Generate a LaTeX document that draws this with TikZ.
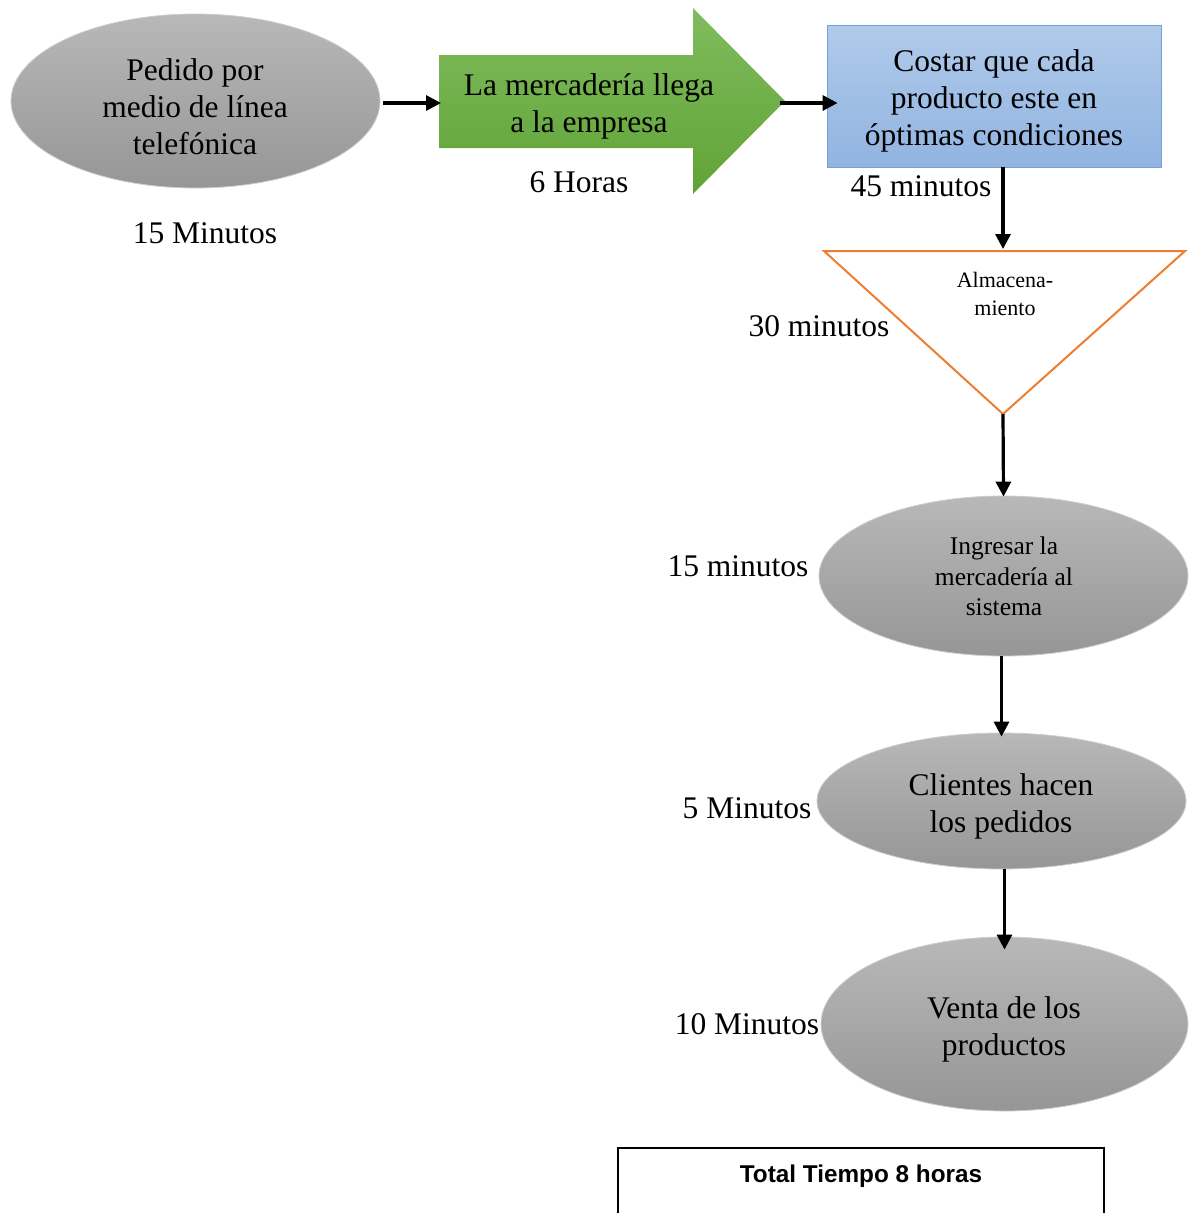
\documentclass[tikz,border=0pt]{standalone}
\usepackage{fontspec}
\setmainfont{Liberation Serif}
\newfontfamily\arialfont{Liberation Sans}
\usetikzlibrary{shapes.geometric,arrows.meta}

\definecolor{ellTop}{RGB}{184,184,184}
\definecolor{ellBot}{RGB}{150,150,150}
\definecolor{ellEdge}{RGB}{205,205,205}
\definecolor{grnTop}{RGB}{128,188,94}
\definecolor{grnBot}{RGB}{96,163,54}
\definecolor{bluTop}{RGB}{176,202,234}
\definecolor{bluBot}{RGB}{145,180,225}
\definecolor{bluEdge}{RGB}{120,160,212}
\definecolor{triOrange}{RGB}{237,125,49}

\tikzset{
  procell/.style={ellipse, draw=ellEdge, line width=0.8pt, top color=ellTop, bottom color=ellBot, inner sep=0pt},
  bigtxt/.style={font=\fontsize{31.5}{37}\selectfont, align=center, inner sep=0pt},
  midtxt/.style={font=\fontsize{25.5}{30.5}\selectfont, align=center, inner sep=0pt},
  smalltxt/.style={font=\fontsize{22}{28}\selectfont, align=center, inner sep=0pt},
  timelbl/.style={font=\fontsize{31.5}{36}\selectfont, inner sep=0pt},
  flow/.style={line width=3.2pt, -{Triangle[length=15pt,width=15pt]}},
}

\begin{document}
\begin{tikzpicture}[x=1pt,y=-1pt]
\useasboundingbox (0,0) rectangle (1195,1213);

% first step: order by phone
\node[procell, minimum width=369pt, minimum height=174pt] (pedido) at (195.5,101) {};
\node[bigtxt] (pedidoT) at (195,107) {Pedido por\\medio de línea\\telefónica};
\node[timelbl] (tPedido) at (205,233) {15 Minutos};

% transport arrow (green block arrow)
\shade[top color=grnTop, bottom color=grnBot]
  (439,55) -- (693,55) -- (693,8) -- (785,101) -- (693,194) -- (693,148) -- (439,148) -- cycle;
\coordinate (arrTail) at (441,103);
\coordinate (arrTip) at (780,103);
\node[bigtxt] (llegaT) at (589,106.5) {La mercadería llega\\a la empresa};
\node[timelbl] (tLlega) at (579,182) {6 Horas};

% inspection box
\node[rectangle, draw=bluEdge, line width=0.8pt, top color=bluTop, bottom color=bluBot,
      minimum width=334pt, minimum height=142pt, inner sep=0pt] (costar) at (994,96) {};
\node[bigtxt] (costarT) at (994,100.5) {Costar que cada\\producto este en\\óptimas condiciones};
\node[timelbl] (tCostar) at (921,186) {45 minutos};

% storage triangle
\coordinate (triL) at (824,251);
\coordinate (triR) at (1185,251);
\coordinate (triTop) at (1003,249);
\coordinate (triBot) at (1003,414);
\draw[triOrange, line width=2pt, line join=miter] (triL) -- (triR) -- (triBot) -- cycle;
\node[smalltxt] (almT) at (1005,294) {Almacena-\\miento};
\node[timelbl] (tAlm) at (819,326) {30 minutos};

% system entry
\node[procell, minimum width=369pt, minimum height=160pt] (ingresar) at (1003.5,576) {};
\node[midtxt] (ingresarT) at (1004,576.5) {Ingresar la\\mercadería al\\sistema};
\node[timelbl] (tIngresar) at (738,566) {15 minutos};

% customer orders
\node[procell, minimum width=369pt, minimum height=136pt] (clientes) at (1001.5,801) {};
\node[bigtxt] (clientesT) at (1001,806) {Clientes hacen\\los pedidos};
\node[timelbl] (tClientes) at (747,808) {5 Minutos};

% sale
\node[procell, minimum width=367pt, minimum height=174pt] (venta) at (1004.5,1024) {};
\node[bigtxt] (ventaT) at (1004,1029) {Venta de los\\productos};
\node[timelbl] (tVenta) at (747,1024) {10 Minutos};

% connectors
\draw[flow] (pedido.east) ++(3,2) coordinate (p1) -- (arrTail);
\draw[flow] (arrTip) -- ([xshift=11pt]costar.west |- arrTip);
\draw[flow] (costar.south -| triTop) -- (triTop);
\draw[flow] (triBot) -- ([yshift=-1pt]ingresar.north);
\draw[flow] (ingresar.south -| clientes.north) -- ([yshift=-4pt]clientes.north);
\draw[flow] (clientes.south -| venta.north) -- ([yshift=-13pt]venta.north);

% total time box
\begin{scope}
\clip (0,0) rectangle (1195,1213);
\node[draw=black, line width=1.4pt, minimum width=486pt, minimum height=100pt, inner sep=0pt]
  (total) at (861,1198) {};
\end{scope}
\node[font=\arialfont\bfseries\fontsize{24.3}{28}\selectfont, inner sep=0pt] (totalT) at (861,1176) {Total Tiempo 8 horas};
\end{tikzpicture}
\end{document}
